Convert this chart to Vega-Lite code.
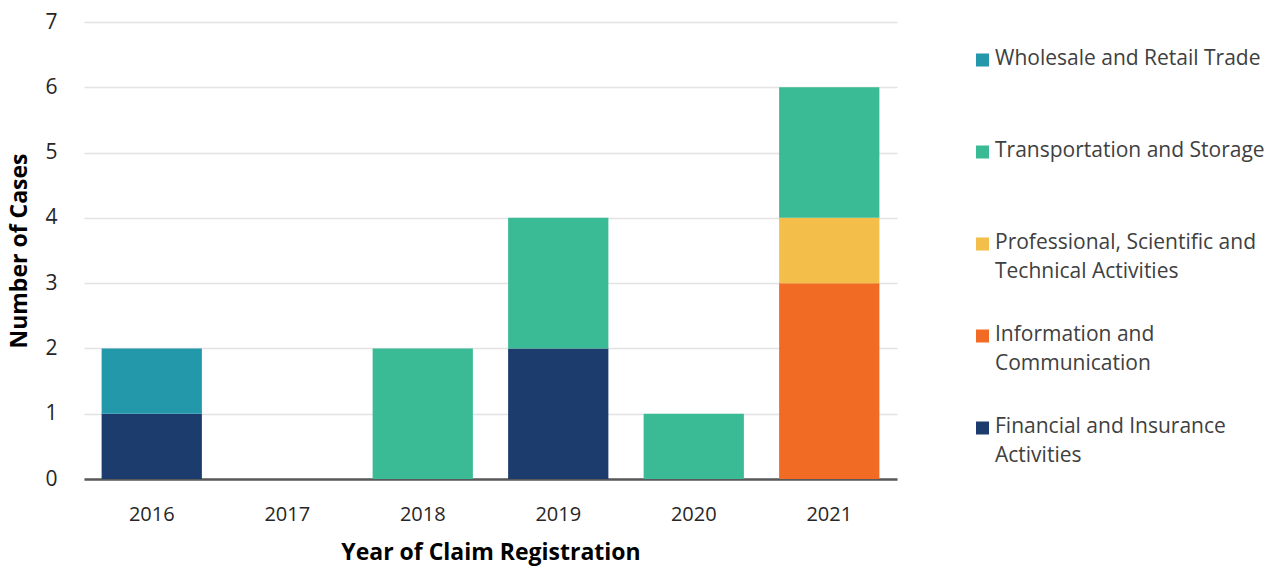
{
  "$schema": "https://vega.github.io/schema/vega-lite/v6.json",
  "autosize": {"type": "none"},
  "width": 813,
  "height": 457,
  "padding": {"left": 84, "top": 22, "right": 373, "bottom": 90},
  "background": "white",
  "config": {
    "font": "Open Sans",
    "view": {"stroke": null},
    "axis": {"labelColor": "#262626", "titleColor": "#000000"}
  },
  "data": {
    "values": [
      {"year": "2016", "industry": "Financial and Insurance Activities", "cases": 1, "rank": 1},
      {"year": "2016", "industry": "Wholesale and Retail Trade", "cases": 1, "rank": 5},
      {"year": "2018", "industry": "Transportation and Storage", "cases": 2, "rank": 4},
      {"year": "2019", "industry": "Financial and Insurance Activities", "cases": 2, "rank": 1},
      {"year": "2019", "industry": "Transportation and Storage", "cases": 2, "rank": 4},
      {"year": "2020", "industry": "Transportation and Storage", "cases": 1, "rank": 4},
      {"year": "2021", "industry": "Information and Communication", "cases": 3, "rank": 2},
      {"year": "2021", "industry": "Professional, Scientific and Technical Activities", "cases": 1, "rank": 3},
      {"year": "2021", "industry": "Transportation and Storage", "cases": 2, "rank": 4}
    ]
  },
  "mark": {"type": "bar"},
  "encoding": {
    "x": {
      "field": "year",
      "type": "ordinal",
      "scale": {"domain": ["2016", "2017", "2018", "2019", "2020", "2021"], "paddingInner": 0.26, "paddingOuter": 0.13},
      "axis": {
        "title": "Year of Claim Registration",
        "labelAngle": 0,
        "labelFontSize": 20,
        "labelPadding": 25,
        "ticks": false,
        "domainColor": "#595959",
        "domainWidth": 2.5,
        "titleFontSize": 23,
        "titleFontWeight": "bold",
        "titlePadding": 17
      }
    },
    "y": {
      "field": "cases",
      "type": "quantitative",
      "aggregate": "sum",
      "stack": "zero",
      "scale": {"domain": [0, 7], "nice": false},
      "axis": {
        "title": "Number of Cases",
        "values": [0, 1, 2, 3, 4, 5, 6, 7],
        "labelOverlap": false,
        "labelFontSize": 21,
        "labelPadding": 27,
        "ticks": false,
        "domain": false,
        "gridColor": "#e3e3e3",
        "gridWidth": 1.5,
        "titleFontSize": 23,
        "titleFontWeight": "bold",
        "titlePadding": 13
      }
    },
    "order": {"field": "rank", "type": "quantitative"},
    "color": {
      "field": "industry",
      "type": "nominal",
      "scale": {
        "domain": ["Wholesale and Retail Trade", "Transportation and Storage", "Professional, Scientific and Technical Activities", "Information and Communication", "Financial and Insurance Activities"],
        "range": ["#2398ab", "#3abb96", "#f4be4a", "#f26b25", "#1d3c6e"]
      },
      "legend": {
        "title": null,
        "orient": "none",
        "legendX": 888,
        "legendY": -2,
        "padding": 0,
        "symbolType": "square",
        "symbolSize": 169,
        "symbolStrokeWidth": 0,
        "labelFontSize": 21,
        "labelColor": "#404040",
        "labelOffset": 2,
        "labelLimit": 400,
        "labelBaseline": "top",
        "clipHeight": 80,
        "rowPadding": 12,
        "labelExpr": "datum.label == 'Professional, Scientific and Technical Activities' ? ['Professional, Scientific and', 'Technical Activities'] : datum.label == 'Information and Communication' ? ['Information and', 'Communication'] : datum.label == 'Financial and Insurance Activities' ? ['Financial and Insurance', 'Activities'] : datum.label",
        "encode": {"labels": {"update": {"dy": {"value": -12}, "lineHeight": {"value": 29}}}}
      }
    }
  }
}
